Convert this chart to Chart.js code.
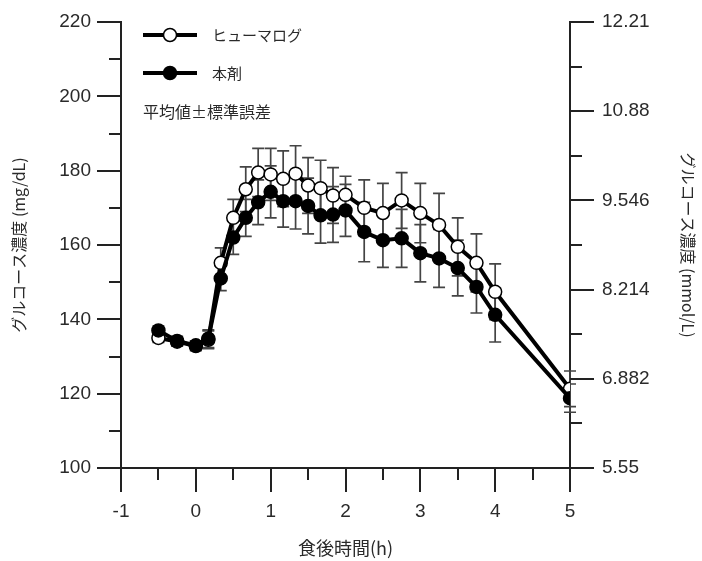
<!DOCTYPE html>
<html>
<head>
<meta charset="utf-8">
<script src="https://cdn.jsdelivr.net/npm/chart.js@4/dist/chart.umd.min.js"></script>
<style>
  body { margin: 0; background: #fff; }
</style>
</head>
<body>
<canvas id="myChart" width="702" height="561"></canvas>
<script>
// tiempo (h) de cada toma
var horas = [-0.5, -0.25, 0, 0.167, 0.333, 0.5, 0.667, 0.833, 1, 1.167, 1.333, 1.5, 1.667, 1.833, 2, 2.25, 2.5, 2.75, 3, 3.25, 3.5, 3.75, 4, 5];

// ヒューマログ (media y error estandar, mg/dL)
var humalog = [135, 134, 132.8, 134.5, 155.2, 167.3, 175, 179.5, 179, 177.8, 179.2, 176, 175.3, 173.3, 173.5, 170, 168.6, 172, 168.6, 165.4, 159.5, 155.2, 147.4, 121.3];
var humalogSE = [1.2, 1.2, 1.2, 2.4, 4, 5, 6, 6.5, 7, 7.5, 7.5, 7.5, 7.5, 7.5, 5, 7.5, 8, 7.5, 8, 8.5, 7.8, 7.8, 7.5, 4.8];

// 本剤
var honzai = [137, 134.2, 133, 134.8, 151, 162, 167.3, 171.5, 174.3, 171.8, 171.8, 170.5, 168, 168.2, 169.3, 163.5, 161.3, 161.8, 157.8, 156.4, 153.8, 148.7, 141.2, 118.8];
var honzaiSE = [1.2, 1.2, 1.2, 2.4, 3.3, 4.5, 5, 6, 7, 7, 7.5, 7.5, 7.5, 7.5, 7, 8, 7.3, 7.8, 7.7, 7.8, 7.5, 7, 7.3, 3.8];

// eje derecho (mmol/L)
var etiquetasDerecha = ['5.55', '6.882', '8.214', '9.546', '10.88', '12.21'];

var textoColor = '#2a2a2a';
var ejeColor = '#222';

function puntos(valores) {
    return horas.map(function (h, i) { return {x: h, y: valores[i]}; });
}

var decoracion = {
    id: 'decoracion',
    beforeDatasetsDraw: function (chart) {
        var ctx = chart.ctx;
        var xs = chart.scales.x, ys = chart.scales.y;
        var series = [[humalog, humalogSE], [honzai, honzaiSE]];
        ctx.save();
        ctx.strokeStyle = '#444';
        ctx.lineWidth = 1.7;
        series.forEach(function (s) {
            horas.forEach(function (h, i) {
                var px = xs.getPixelForValue(h);
                var top = ys.getPixelForValue(s[0][i] + s[1][i]);
                var bot = ys.getPixelForValue(s[0][i] - s[1][i]);
                ctx.beginPath();
                ctx.moveTo(px, top); ctx.lineTo(px, bot);
                ctx.moveTo(px - 6, top); ctx.lineTo(px + 6, top);
                ctx.moveTo(px - 6, bot); ctx.lineTo(px + 6, bot);
                ctx.stroke();
            });
        });
        ctx.restore();
    },
    afterDraw: function (chart) {
        var ctx = chart.ctx;
        var area = chart.chartArea;
        var xs = chart.scales.x, ys = chart.scales.y, ys2 = chart.scales.y2;
        ctx.save();
        ctx.strokeStyle = ejeColor;
        ctx.lineWidth = 2;
        ctx.beginPath();
        xs.ticks.forEach(function (t) {
            var px = Math.round(xs.getPixelForValue(t.value));
            var largo = Math.abs(t.value - Math.round(t.value)) < 1e-6 ? 24 : 12;
            ctx.moveTo(px, area.bottom); ctx.lineTo(px, area.bottom + largo);
        });
        ys.ticks.forEach(function (t) {
            var py = Math.round(ys.getPixelForValue(t.value));
            var largo = t.value % 20 === 0 ? 24 : 12;
            ctx.moveTo(area.left - largo, py); ctx.lineTo(area.left, py);
        });
        ys2.ticks.forEach(function (t, i) {
            var py = Math.round(ys2.getPixelForValue(t.value));
            var largo = i % 2 === 0 ? 24 : 12;
            ctx.moveTo(area.right, py); ctx.lineTo(area.right + largo, py);
        });
        ctx.stroke();

        // leyenda
        var lx = area.left + 22, ly = area.top + 13;
        var filas = [chart.data.datasets[0], chart.data.datasets[1]];
        filas.forEach(function (ds, i) {
            var y = ly + i * 38;
            ctx.strokeStyle = '#000';
            ctx.lineWidth = 4;
            ctx.beginPath();
            ctx.moveTo(lx, y); ctx.lineTo(lx + 54, y);
            ctx.stroke();
            ctx.beginPath();
            ctx.arc(lx + 27, y, 6.5, 0, Math.PI * 2);
            ctx.fillStyle = ds.pointBackgroundColor;
            ctx.fill();
            ctx.lineWidth = 1.5;
            ctx.stroke();
            ctx.fillStyle = textoColor;
            ctx.font = '15px "Noto Sans CJK JP"';
            ctx.textBaseline = 'middle';
            ctx.fillText(ds.label, lx + 69, y);
        });
        ctx.font = '16px "Noto Sans CJK JP"';
        ctx.fillText('平均値±標準誤差', lx, ly + 77);
        ctx.restore();
    }
};

var ctx = document.getElementById('myChart');
var myChart = new Chart(ctx, {
    type: 'line',
    data: {
        datasets: [{
            label: 'ヒューマログ',
            data: puntos(humalog),
            borderColor: '#000',
            borderWidth: 4,
            pointRadius: 6.5,
            pointBorderWidth: 1.5,
            pointBorderColor: '#000',
            pointBackgroundColor: '#fff',
            order: 2
        }, {
            label: '本剤',
            data: puntos(honzai),
            borderColor: '#000',
            borderWidth: 4,
            pointRadius: 6.5,
            pointBorderWidth: 1.5,
            pointBorderColor: '#000',
            pointBackgroundColor: '#000',
            order: 1
        }]
    },
    options: {
        responsive: false,
        animation: false,
        layout: { padding: { top: 22, left: 0, right: 0, bottom: 0 } },
        plugins: {
            legend: { display: false },
            tooltip: { enabled: false }
        },
        scales: {
            x: {
                type: 'linear',
                min: -1, max: 5,
                afterFit: function (s) { s.height = 93; },
                border: { display: true, color: ejeColor, width: 2 },
                grid: { drawOnChartArea: false, drawTicks: true, tickLength: 24, tickColor: 'transparent' },
                ticks: {
                    stepSize: 0.5, autoSkip: false, maxRotation: 0, padding: 8,
                    color: textoColor,
                    font: { family: '"Liberation Sans", Arial', size: 19 },
                    callback: function (v) { return Number.isInteger(v) ? String(v) : ''; }
                },
                title: {
                    display: true, text: '食後時間(h)', color: textoColor,
                    font: { family: '"Noto Sans CJK JP"', size: 18 },
                    padding: { top: 0, bottom: 2 }
                }
            },
            y: {
                position: 'left',
                min: 100, max: 220,
                afterFit: function (s) { s.width = 121; },
                border: { display: true, color: ejeColor, width: 2 },
                grid: { drawOnChartArea: false, drawTicks: true, tickLength: 24, tickColor: 'transparent' },
                ticks: {
                    stepSize: 10, autoSkip: false, padding: 6,
                    color: textoColor,
                    font: { family: '"Liberation Sans", Arial', size: 19 },
                    callback: function (v) { return v % 20 === 0 ? String(v) : ''; }
                },
                title: {
                    display: true, text: 'グルコース濃度 (mg/dL)', color: textoColor,
                    font: { family: '"Noto Sans CJK JP"', size: 16 },
                    padding: { top: 9, bottom: 0 }
                }
            },
            y2: {
                position: 'right',
                min: 100, max: 220,
                afterFit: function (s) { s.width = 132; },
                border: { display: true, color: ejeColor, width: 2 },
                grid: { drawOnChartArea: false, drawTicks: true, tickLength: 24, tickColor: 'transparent' },
                ticks: {
                    stepSize: 12, autoSkip: false, padding: 8,
                    color: textoColor,
                    font: { family: '"Liberation Sans", Arial', size: 19 },
                    callback: function (v, i) { return i % 2 === 0 ? etiquetasDerecha[i / 2] : ''; }
                },
                title: {
                    display: true, text: 'グルコース濃度 (mmol/L)', color: textoColor,
                    font: { family: '"Noto Sans CJK JP"', size: 16 },
                    padding: { top: 4, bottom: 0 }
                }
            }
        }
    },
    plugins: [decoracion]
});
</script>
</body>
</html>
